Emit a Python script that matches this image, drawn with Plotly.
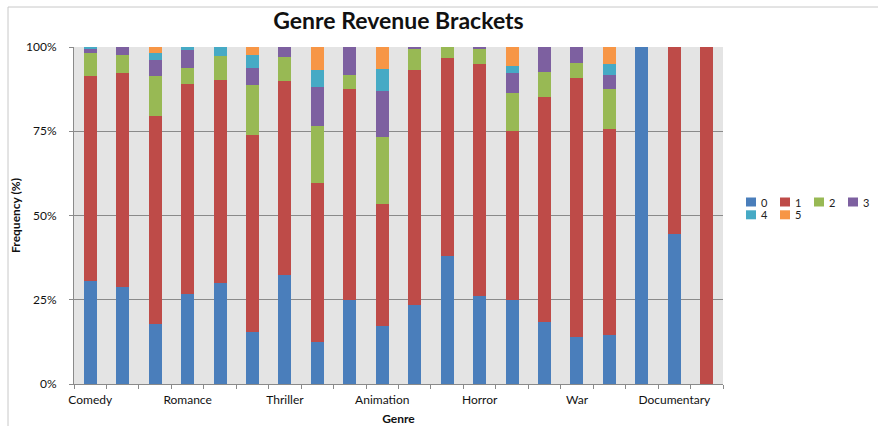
import plotly.graph_objects as go

# 20 genre bars; only every third label is shown on the axis
bar_index = list(range(20))
tick_positions = [0, 3, 6, 9, 12, 15, 18]
tick_labels = ["Comedy", "Romance", "Thriller", "Animation", "Horror", "War", "Documentary"]

brackets = ["0", "1", "2", "3", "4", "5"]

b0 = [30.7, 28.9, 17.8, 26.8, 29.9, 15.4, 32.2, 12.6, 24.8, 17.3,
      23.3, 38.1, 26.0, 24.8, 18.4, 13.8, 14.6, 100.0, 44.4, 0.0]
b1 = [60.6, 63.4, 61.7, 62.1, 60.2, 58.4, 57.7, 46.9, 62.6, 36.1,
      69.8, 58.7, 68.9, 50.2, 66.8, 77.1, 61.0, 0.0, 55.6, 100.0]
b2 = [6.9, 5.4, 11.8, 5.0, 7.2, 14.8, 7.1, 17.0, 4.2, 19.9,
      6.4, 3.2, 4.5, 11.5, 7.3, 4.5, 11.8, 0.0, 0.0, 0.0]
b3 = [1.5, 2.3, 4.8, 5.1, 0.0, 5.3, 3.0, 11.5, 8.4, 13.6,
      0.5, 0.0, 0.6, 5.8, 7.5, 4.6, 4.2, 0.0, 0.0, 0.0]
b4 = [0.3, 0.0, 2.2, 1.0, 2.7, 3.6, 0.0, 5.1, 0.0, 6.5,
      0.0, 0.0, 0.0, 2.0, 0.0, 0.0, 3.3, 0.0, 0.0, 0.0]
b5 = [0.0, 0.0, 1.7, 0.0, 0.0, 2.5, 0.0, 6.9, 0.0, 6.6,
      0.0, 0.0, 0.0, 5.7, 0.0, 0.0, 5.1, 0.0, 0.0, 0.0]

series = [b0, b1, b2, b3, b4, b5]
colors = ["#4a7ebb", "#be4b48", "#98b954", "#7d60a0", "#46aac5", "#f79646"]

FONT = "Lato, Open Sans, DejaVu Sans, sans-serif"

W, H = 878, 426
L, R, T, B = 74, 155, 47, 42
PW, PH = W - L - R, H - T - B

fig = go.Figure()
for name, vals, col in zip(brackets, series, colors):
    fig.add_trace(go.Bar(
        x=bar_index, y=vals, name=name,
        marker=dict(color=col, line=dict(width=0)),
        width=0.4,
    ))

fig.update_layout(
    width=W, height=H,
    barmode="stack",
    paper_bgcolor="white",
    plot_bgcolor="#e4e4e4",
    margin=dict(l=L, r=R, t=T, b=B, autoexpand=False),
    font=dict(family=FONT, size=12, color="#222"),
    title=dict(text="<b>Genre Revenue Brackets</b>", x=(L + PW / 2) / W, xanchor="center",
               xref="container", yref="container",
               y=1 - 21 / H, yanchor="middle",
               font=dict(family=FONT, size=23, color="#111")),
    showlegend=False,
)

fig.update_xaxes(
    range=[-0.5, 19.5],
    tickmode="array", tickvals=tick_positions, ticktext=tick_labels,
    ticks="", showgrid=False, automargin=False,
    showline=True, linecolor="#8a8a8a", linewidth=1,
    tickfont=dict(size=12, color="#111"),
    ticklabelstandoff=5,
    minor=dict(tick0=-0.5, dtick=1, ticks="outside", ticklen=4,
               tickcolor="#8a8a8a", showgrid=False),
    title=dict(text="<b>Genre</b>", font=dict(size=12, color="#111"), standoff=9),
)
fig.update_yaxes(
    range=[0, 100], automargin=False,
    tickvals=[0, 25, 50, 75, 100], ticktext=["0%", "25%", "50%", "75%", "100%"],
    ticks="outside", ticklen=4, tickcolor="#8a8a8a",
    ticklabelstandoff=10,
    showgrid=True, gridcolor="#8a8a8a", gridwidth=1,
    showline=True, linecolor="#8a8a8a", linewidth=1,
    zeroline=False,
    tickfont=dict(size=12, color="#111"),
    title=dict(text="<b>Frequency (%)</b>", font=dict(size=12, color="#111"), standoff=2),
)

# legend drawn as swatches + labels (2 rows of 4 columns, as in the reference)
def px_x(px):
    return (px - L) / PW

def px_y(py):
    return (H - B - py) / PH

for i, (name, col) in enumerate(zip(brackets, colors)):
    row, c = divmod(i, 4)
    sx = 746 + 34 * c
    sy = 202 + 12.8 * row
    fig.add_shape(type="rect", xref="paper", yref="paper",
                  x0=px_x(sx), x1=px_x(sx + 10), y0=px_y(sy - 4.5), y1=px_y(sy + 4.5),
                  fillcolor=col, line=dict(width=0))
    fig.add_annotation(xref="paper", yref="paper", x=px_x(sx + 14), y=px_y(sy),
                       xanchor="left", yanchor="middle", text=name, showarrow=False,
                       borderpad=0,
                       font=dict(family=FONT, size=11, color="#222"))

# light frame around the chart area (as in the screenshot)
fig.add_shape(type="line", xref="paper", yref="paper",
              x0=px_x(8), x1=px_x(8), y0=px_y(440), y1=px_y(7),
              line=dict(color="#c8c8c8", width=1))
fig.add_shape(type="line", xref="paper", yref="paper",
              x0=px_x(8), x1=px_x(890), y0=px_y(7), y1=px_y(7),
              line=dict(color="#c8c8c8", width=1))

fig.write_html("out.html", config={"displayModeBar": False},
               post_script="document.body.style.margin='0px';")
